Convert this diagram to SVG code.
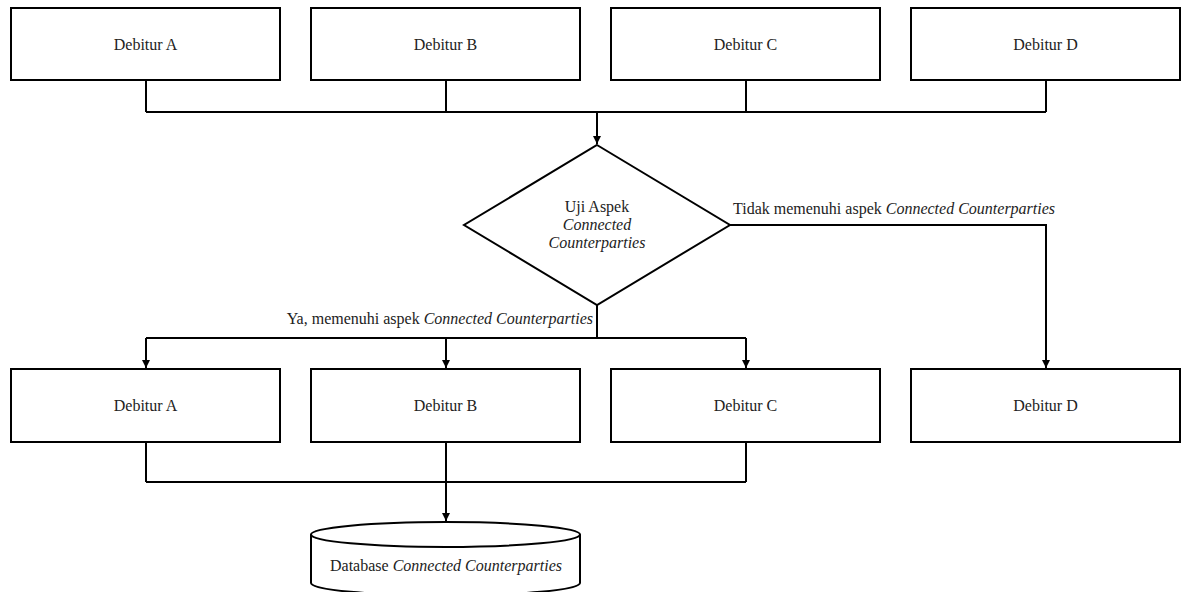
<svg xmlns="http://www.w3.org/2000/svg" width="1184" height="592" viewBox="0 0 1184 592" font-family="'Liberation Serif', 'Times New Roman', Times, serif">
<style>
.box{fill:#fff;stroke:#000;stroke-width:2}
.ln{fill:none;stroke:#000;stroke-width:2}
.t{font-family:'Liberation Serif','Times New Roman',Times,serif;font-size:16px;fill:#222}
.c{text-anchor:middle}
.i{font-style:italic}
</style>
<defs>
<marker id="ah" markerWidth="10" markerHeight="10" refX="9" refY="5" orient="auto" markerUnits="userSpaceOnUse">
<path d="M1,1 L9,5 L1,9 Z" fill="#000"/>
</marker>
</defs>
<rect width="1184" height="592" fill="#fff"/>
<g id="connectors">
<path class="ln" d="M146,80 V112 M446,80 V112 M746,80 V112 M1046,80 V112 M146,112 H1046"/>
<path class="ln" d="M597,112 V144" marker-end="url(#ah)"/>
<path class="ln" d="M597,305 V338 M146,338 H746"/>
<path class="ln" d="M146,338 V368" marker-end="url(#ah)"/>
<path class="ln" d="M446,338 V368" marker-end="url(#ah)"/>
<path class="ln" d="M746,338 V368" marker-end="url(#ah)"/>
<path class="ln" d="M730,225 H1046 V368" marker-end="url(#ah)"/>
<path class="ln" d="M146,442 V482 M746,442 V482 M146,482 H746"/>
<path class="ln" d="M446,442 V521" marker-end="url(#ah)"/>
<text class="t" x="593" y="324" text-anchor="end">Ya, memenuhi aspek <tspan class="i">Connected Counterparties</tspan></text>
<text class="t" x="733" y="214">Tidak memenuhi aspek <tspan class="i">Connected Counterparties</tspan></text>
</g>
<g id="top-a"><rect class="box" x="11" y="8" width="269" height="72"/><text class="t c" x="145.5" y="50">Debitur A</text></g>
<g id="top-b"><rect class="box" x="311" y="8" width="269" height="72"/><text class="t c" x="445.5" y="50">Debitur B</text></g>
<g id="top-c"><rect class="box" x="611" y="8" width="269" height="72"/><text class="t c" x="745.5" y="50">Debitur C</text></g>
<g id="top-d"><rect class="box" x="911" y="8" width="269" height="72"/><text class="t c" x="1045.5" y="50">Debitur D</text></g>
<g id="decision">
<polygon class="box" points="597,145 730,225 597,305 464,225"/>
<text class="t c" x="597" y="212">Uji Aspek</text>
<text class="t c i" x="597" y="230">Connected</text>
<text class="t c i" x="597" y="248">Counterparties</text>
</g>
<g id="bot-a"><rect class="box" x="11" y="369" width="269" height="73"/><text class="t c" x="145.5" y="411">Debitur A</text></g>
<g id="bot-b"><rect class="box" x="311" y="369" width="269" height="73"/><text class="t c" x="445.5" y="411">Debitur B</text></g>
<g id="bot-c"><rect class="box" x="611" y="369" width="269" height="73"/><text class="t c" x="745.5" y="411">Debitur C</text></g>
<g id="bot-d"><rect class="box" x="911" y="369" width="269" height="73"/><text class="t c" x="1045.5" y="411">Debitur D</text></g>
<g id="database">
<path class="box" d="M311,534.5 A134.5,12.5 0 0 1 580,534.5 V583 A134.5,12.5 0 0 1 311,583 Z"/>
<path class="ln" d="M311,534.5 A134.5,12.5 0 0 0 580,534.5"/>
<text class="t c" x="446" y="571">Database <tspan class="i">Connected Counterparties</tspan></text>
</g>
</svg>
